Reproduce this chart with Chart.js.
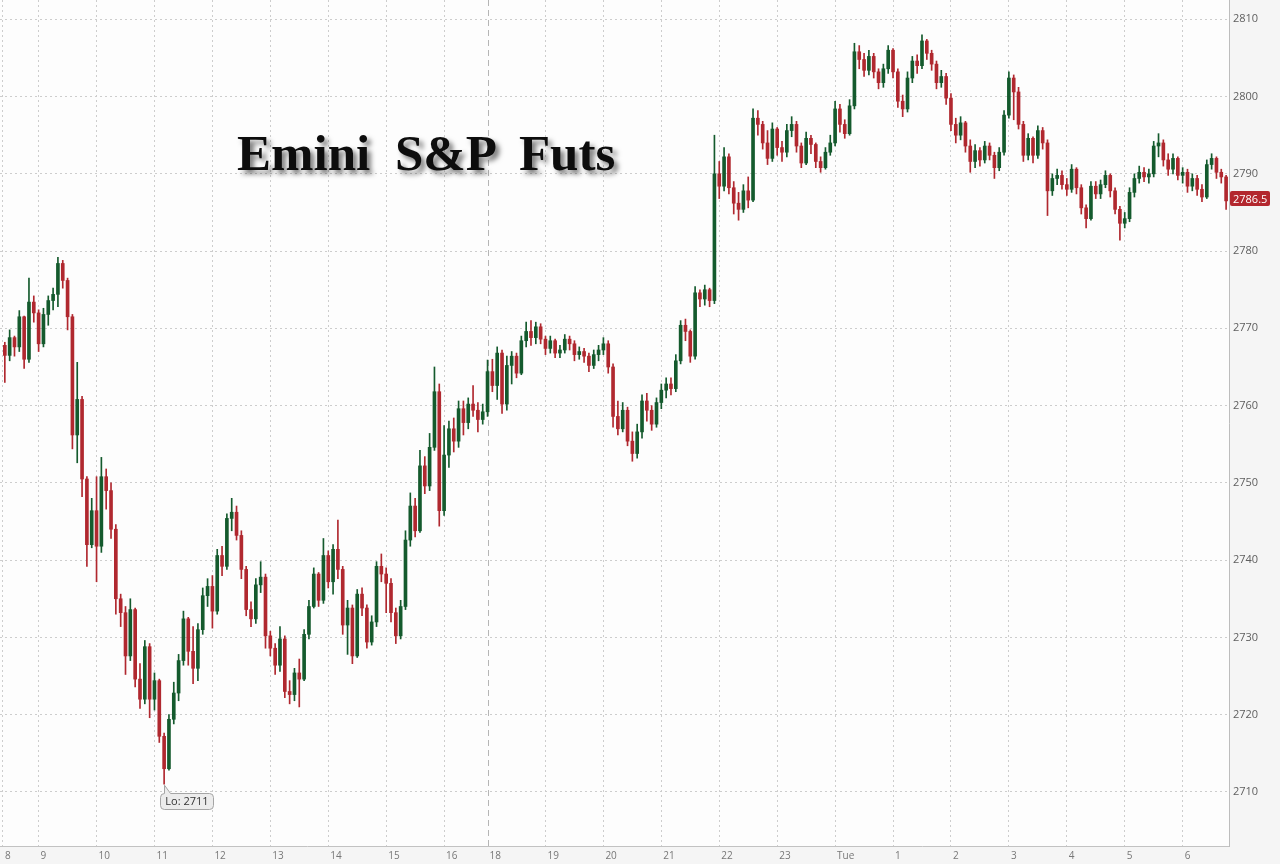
<!DOCTYPE html>
<html>
<head>
<meta charset="utf-8">
<title>Emini S&amp;P Futs</title>
<script src="https://cdn.jsdelivr.net/npm/chart.js@4.4.0/dist/chart.umd.min.js"></script>
<style>
  html, body { margin: 0; padding: 0; background: #f5f5f5; }
  #wrap { position: relative; width: 1280px; height: 864px; overflow: hidden; }
  #title {
    position: absolute; left: 237px; top: 128px;
    font: bold 51px/51px "Liberation Serif", "Times New Roman", serif;
    word-spacing: 12px; color: #0d0d0d; white-space: nowrap;
    text-shadow: 4px 4px 5px rgba(0, 0, 0, 0.5);
  }
</style>
</head>
<body>
<div id="wrap">
  <canvas id="futsChart" width="1280" height="864"></canvas>
  <div id="title">Emini S&amp;P Futs</div>
</div>
<script>
// 5-minute bars, trading time (minutes after 8:00, halts removed)
const firstOpen = 2767.8;
const closes = [
  2766.5, 2768.8, 2767.6, 2771.5, 2766.0, 2773.4, 2772.0, 2768.0, 2771.8, 2773.6,
  2774.4, 2778.4, 2776.2, 2771.5, 2756.2, 2760.8, 2750.5, 2742.0, 2746.4, 2741.8,
  2750.8, 2749.0, 2744.0, 2735.0, 2733.2, 2727.6, 2733.6, 2724.6, 2722.0, 2728.8,
  2722.0, 2724.4, 2717.2, 2713.0, 2719.4, 2722.8, 2727.0, 2732.4, 2728.2, 2726.0,
  2731.0, 2735.4, 2736.6, 2733.4, 2740.6, 2739.2, 2745.4, 2746.2, 2743.2, 2738.8,
  2733.6, 2732.4, 2736.8, 2737.8, 2730.2, 2728.6, 2726.4, 2729.8, 2723.0, 2722.6,
  2725.4, 2724.6, 2730.4, 2734.0, 2738.2, 2734.8, 2740.6, 2737.2, 2741.4, 2738.8,
  2731.6, 2733.8, 2727.6, 2735.6, 2733.8, 2729.4, 2732.0, 2739.2, 2738.2, 2737.0,
  2733.2, 2730.2, 2734.0, 2742.6, 2747.0, 2743.8, 2752.2, 2749.6, 2754.6, 2761.8,
  2746.4, 2753.6, 2757.0, 2755.4, 2759.6, 2757.8, 2760.2, 2759.4, 2758.2, 2759.2,
  2764.4, 2762.6, 2766.8, 2760.2, 2765.2, 2766.4, 2764.2, 2768.4, 2769.6, 2768.8,
  2770.2, 2768.6, 2767.4, 2768.4, 2766.8, 2767.2, 2768.6, 2768.0, 2766.6, 2767.0,
  2766.4, 2765.2, 2766.6, 2767.2, 2768.0, 2765.0, 2758.6, 2757.0, 2759.4, 2755.4,
  2753.8, 2756.6, 2760.6, 2759.4, 2757.6, 2760.4, 2762.0, 2762.8, 2762.2, 2765.8,
  2770.4, 2769.6, 2766.4, 2774.6, 2773.8, 2775.0, 2773.6, 2790.0, 2788.4, 2792.2,
  2788.2, 2786.2, 2785.4, 2787.8, 2786.6, 2797.2, 2796.4, 2794.0, 2792.0, 2795.8,
  2793.4, 2792.8, 2795.6, 2796.4, 2793.6, 2791.4, 2794.6, 2793.8, 2791.6, 2790.8,
  2792.8, 2794.0, 2798.4, 2796.4, 2795.2, 2798.8, 2805.8, 2804.8, 2803.4, 2805.2,
  2803.2, 2801.8, 2803.6, 2806.0, 2803.2, 2799.4, 2798.4, 2802.4, 2804.6, 2804.0,
  2807.2, 2805.6, 2804.2, 2801.8, 2802.6, 2799.8, 2796.4, 2795.0, 2796.6, 2793.6,
  2791.6, 2793.0, 2791.8, 2793.6, 2792.4, 2790.8, 2792.8, 2797.6, 2802.4, 2800.6,
  2796.4, 2792.4, 2794.6, 2792.4, 2795.6, 2794.0, 2787.8, 2789.4, 2789.8, 2788.6,
  2788.0, 2790.6, 2788.2, 2785.6, 2784.2, 2788.4, 2787.4, 2788.6, 2789.8, 2787.8,
  2785.4, 2783.6, 2784.2, 2787.6, 2789.4, 2790.2, 2789.6, 2790.0, 2793.6, 2794.0,
  2791.8, 2790.6, 2792.0, 2789.8, 2790.2, 2788.4, 2789.4, 2788.0, 2787.0, 2791.2,
  2792.0, 2790.2, 2789.6, 2786.5
];
const highs = [
  2768.2, 2769.8, 2769.0, 2772.3, 2771.6, 2776.5, 2774.2, 2772.4, 2772.6, 2774.2,
  2775.2, 2779.2, 2778.8, 2776.5, 2771.8, 2765.6, 2761.2, 2750.8, 2748.0, 2750.8,
  2753.3, 2751.8, 2750.0, 2744.6, 2735.6, 2734.0, 2735.0, 2733.8, 2726.6, 2729.6,
  2729.2, 2725.4, 2724.6, 2717.6, 2720.0, 2724.2, 2727.8, 2733.4, 2732.6, 2731.4,
  2731.8, 2736.4, 2737.6, 2738.0, 2741.4, 2741.8, 2746.0, 2748.0, 2747.0, 2743.8,
  2739.2, 2734.6, 2737.6, 2739.8, 2738.2, 2730.8, 2729.2, 2731.4, 2730.2, 2724.4,
  2726.0, 2727.2, 2731.0, 2734.8, 2739.0, 2738.4, 2742.8, 2741.2, 2742.0, 2745.2,
  2739.2, 2734.8, 2734.2, 2736.2, 2736.4, 2734.2, 2732.8, 2739.8, 2740.8, 2739.0,
  2737.6, 2733.8, 2734.8, 2743.8, 2748.7, 2748.0, 2754.2, 2753.4, 2756.4, 2765.0,
  2762.8, 2757.4, 2758.0, 2758.4, 2760.6, 2760.6, 2761.0, 2762.6, 2760.4, 2760.2,
  2765.9, 2766.0, 2767.6, 2767.2, 2766.4, 2767.0, 2766.8, 2769.0, 2770.8, 2771.0,
  2770.8, 2770.6, 2769.0, 2769.0, 2768.6, 2767.8, 2769.2, 2769.0, 2768.4, 2767.6,
  2767.4, 2766.8, 2767.2, 2767.8, 2768.8, 2768.4, 2765.4, 2760.6, 2760.4, 2759.8,
  2756.6, 2757.6, 2761.4, 2761.6, 2760.0, 2761.0, 2762.8, 2763.6, 2763.6, 2766.6,
  2771.0, 2771.2, 2769.8, 2775.4, 2775.0, 2775.6, 2775.2, 2795.0, 2791.6, 2793.4,
  2792.6, 2789.0, 2787.6, 2788.6, 2789.6, 2798.4, 2798.2, 2796.8, 2795.6, 2796.6,
  2796.0, 2794.2, 2796.4, 2797.4, 2796.8, 2794.0, 2795.4, 2795.0, 2794.0, 2792.2,
  2793.4, 2795.0, 2799.4, 2799.0, 2797.0, 2799.6, 2806.9, 2806.6, 2805.6, 2806.0,
  2805.6, 2803.6, 2804.2, 2806.6, 2806.2, 2803.6, 2800.2, 2803.2, 2805.2, 2805.4,
  2808.0, 2807.4, 2806.0, 2804.6, 2803.4, 2803.0, 2800.4, 2797.2, 2797.4, 2796.8,
  2794.4, 2793.8, 2793.4, 2794.2, 2794.0, 2792.8, 2793.4, 2798.2, 2803.2, 2802.8,
  2801.2, 2796.8, 2795.2, 2794.8, 2796.2, 2796.0, 2794.4, 2790.0, 2790.6, 2790.4,
  2789.4, 2791.2, 2790.8, 2788.6, 2786.0, 2789.0, 2789.0, 2789.2, 2790.4, 2790.0,
  2788.2, 2785.8, 2785.0, 2788.2, 2790.0, 2791.0, 2790.8, 2790.6, 2794.2, 2795.2,
  2794.4, 2792.6, 2792.6, 2792.2, 2790.8, 2790.6, 2790.0, 2789.8, 2788.6, 2791.8,
  2792.6, 2792.2, 2790.6, 2789.8
];
const lows = [
  2763.0, 2765.8, 2766.4, 2767.0, 2764.8, 2765.6, 2770.8, 2767.0, 2767.6, 2770.4,
  2772.4, 2772.8, 2775.2, 2769.8, 2754.4, 2752.6, 2748.2, 2739.2, 2741.6, 2737.2,
  2741.0, 2746.6, 2742.8, 2733.0, 2731.4, 2725.2, 2727.0, 2723.6, 2720.8, 2721.4,
  2719.6, 2720.6, 2716.4, 2711.0, 2712.8, 2718.8, 2721.8, 2726.4, 2726.4, 2724.0,
  2724.4, 2730.4, 2734.0, 2731.2, 2733.0, 2738.0, 2738.8, 2743.8, 2742.6, 2737.6,
  2732.8, 2731.4, 2731.8, 2735.8, 2728.6, 2727.6, 2725.2, 2725.6, 2722.2, 2721.4,
  2721.8, 2721.0, 2724.4, 2729.8, 2733.8, 2734.0, 2734.4, 2736.4, 2735.6, 2737.6,
  2730.4, 2727.8, 2726.6, 2727.4, 2732.8, 2728.6, 2729.0, 2731.4, 2737.2, 2733.2,
  2732.0, 2729.2, 2729.8, 2733.6, 2741.8, 2743.0, 2743.6, 2748.6, 2749.0, 2754.2,
  2744.4, 2745.8, 2752.0, 2754.0, 2754.6, 2756.2, 2757.0, 2758.6, 2756.6, 2757.6,
  2758.6, 2761.8, 2760.8, 2759.0, 2759.4, 2762.8, 2763.6, 2764.0, 2767.6, 2767.8,
  2768.0, 2768.0, 2766.6, 2766.8, 2766.2, 2766.2, 2766.8, 2767.2, 2765.8, 2766.0,
  2765.6, 2764.4, 2764.8, 2765.8, 2766.6, 2764.2, 2757.2, 2756.2, 2756.6, 2754.8,
  2752.8, 2753.2, 2755.8, 2758.0, 2756.8, 2757.2, 2759.6, 2761.0, 2761.4, 2761.8,
  2765.4, 2768.4, 2765.6, 2766.0, 2772.8, 2773.0, 2772.8, 2773.2, 2786.8, 2787.8,
  2787.4, 2784.8, 2784.0, 2785.0, 2785.6, 2786.4, 2795.0, 2793.2, 2791.2, 2791.6,
  2792.4, 2791.6, 2792.2, 2794.8, 2792.8, 2790.8, 2791.2, 2792.6, 2790.8, 2790.2,
  2790.6, 2792.4, 2793.6, 2795.4, 2794.6, 2795.0, 2798.4, 2803.6, 2802.6, 2802.8,
  2802.4, 2801.0, 2801.2, 2803.0, 2802.4, 2798.6, 2797.4, 2798.0, 2801.8, 2803.0,
  2803.6, 2804.8, 2803.4, 2801.0, 2801.2, 2799.0, 2795.6, 2794.0, 2794.4, 2792.8,
  2790.2, 2790.8, 2791.0, 2791.4, 2791.8, 2789.4, 2790.4, 2792.4, 2797.2, 2797.0,
  2795.8, 2791.6, 2791.8, 2791.4, 2792.0, 2793.2, 2784.6, 2787.2, 2788.6, 2788.0,
  2787.2, 2787.6, 2787.4, 2784.8, 2783.0, 2784.0, 2786.8, 2786.8, 2788.2, 2787.0,
  2784.8, 2781.4, 2783.0, 2783.8, 2787.0, 2788.8, 2789.0, 2788.8, 2789.6, 2792.2,
  2791.0, 2789.8, 2790.0, 2789.2, 2788.8, 2787.6, 2787.8, 2787.2, 2786.4, 2786.8,
  2790.6, 2789.4, 2788.8, 2785.4
];

const slotStart = 25;   // first bar, minutes after 8:00
const slotStep = 5;
const sessionBreak = 525; // 17:00 close / 18:00 reopen

const hourTicks = [23, 60, 120, 180, 240, 300, 360, 420, 480, 525, 585, 645, 705,
  765, 825, 885, 945, 1005, 1065, 1125, 1185, 1245];
const hourLabels = ['8', '9', '10', '11', '12', '13', '14', '15', '16', '18', '19', '20', '21',
  '22', '23', 'Tue', '1', '2', '3', '4', '5', '6'];
const priceTicks = [2710, 2720, 2730, 2740, 2750, 2760, 2770, 2780, 2790, 2800, 2810];

const times = closes.map((c, i) => slotStart + i * slotStep);
const opens = closes.map((c, i) => i === 0 ? firstOpen : closes[i - 1]);

const upColor = '#145a2d';
const downColor = '#b0282f';
const barColor = ctx => closes[ctx.dataIndex] >= opens[ctx.dataIndex] ? upColor : downColor;

const gridGray = '#cdcdcd';

// background, session break line, low callout and last price tag
const chartDecor = {
  id: 'chartDecor',
  beforeDraw(chart) {
    const { ctx, chartArea: a } = chart;
    ctx.save();
    ctx.fillStyle = '#f5f5f5';
    ctx.fillRect(0, 0, chart.width, chart.height);
    ctx.fillStyle = '#fdfdfd';
    ctx.fillRect(a.left, a.top, a.right - a.left, a.bottom - a.top);
    ctx.restore();
  },
  beforeDatasetsDraw(chart) {
    const { ctx, chartArea: a, scales } = chart;
    const x = Math.round(scales.x.getPixelForValue(sessionBreak)) + 0.5;
    ctx.save();
    ctx.strokeStyle = '#b5b5b5';
    ctx.lineWidth = 1;
    ctx.setLineDash([6, 4]);
    ctx.beginPath();
    ctx.moveTo(x, a.top);
    ctx.lineTo(x, a.bottom);
    ctx.stroke();
    ctx.restore();
  },
  afterDraw(chart) {
    const { ctx, scales } = chart;

    // Lo callout
    const lowVal = Math.min(...lows);
    const lowIdx = lows.indexOf(lowVal);
    const px = Math.round(scales.x.getPixelForValue(times[lowIdx])) + 0.5;
    const py = scales.y.getPixelForValue(lowVal);
    const bx = px - 4, by = Math.round(py + 9) + 0.5, bw = 53, bh = 16, r = 4;
    ctx.save();
    ctx.beginPath();
    ctx.moveTo(bx + r, by);
    ctx.lineTo(px, by);
    ctx.lineTo(px, py + 1);
    ctx.lineTo(px + 6, by);
    ctx.lineTo(bx + bw - r, by);
    ctx.arcTo(bx + bw, by, bx + bw, by + r, r);
    ctx.lineTo(bx + bw, by + bh - r);
    ctx.arcTo(bx + bw, by + bh, bx + bw - r, by + bh, r);
    ctx.lineTo(bx + r, by + bh);
    ctx.arcTo(bx, by + bh, bx, by + bh - r, r);
    ctx.lineTo(bx, by + r);
    ctx.arcTo(bx, by, bx + r, by, r);
    ctx.closePath();
    ctx.fillStyle = '#ececec';
    ctx.fill();
    ctx.strokeStyle = '#a5a5a5';
    ctx.lineWidth = 1;
    ctx.stroke();
    ctx.fillStyle = '#333';
    ctx.font = '11px "Open Sans", sans-serif';
    ctx.textAlign = 'center';
    ctx.textBaseline = 'middle';
    ctx.fillText('Lo: ' + Math.round(lowVal), bx + bw / 2, by + bh / 2 + 0.5);

    // last price tag
    const last = closes[closes.length - 1];
    const ty = scales.y.getPixelForValue(last) - 2;
    const tx = scales.y.left + 1, tw = 40, th = 15;
    ctx.beginPath();
    ctx.roundRect(tx, Math.round(ty - th / 2), tw, th, 2);
    ctx.fillStyle = '#b3272e';
    ctx.fill();
    ctx.fillStyle = '#ffffff';
    ctx.font = '11px "Open Sans", sans-serif';
    ctx.textAlign = 'left';
    ctx.fillText(last.toFixed(1), tx + 3, Math.round(ty) + 0.5);
    ctx.restore();
  }
};

new Chart(document.getElementById('futsChart'), {
  type: 'bar',
  data: {
    datasets: [
      {
        label: 'Body',
        data: times.map((t, i) => ({ x: t, y: [opens[i], closes[i]] })),
        backgroundColor: barColor,
        borderWidth: 0,
        barThickness: 3,
        minBarLength: 1,
        grouped: false
      },
      {
        label: 'Wick',
        data: times.map((t, i) => ({ x: t, y: [lows[i], highs[i]] })),
        backgroundColor: barColor,
        borderWidth: 0,
        barThickness: 1,
        grouped: false
      }
    ]
  },
  options: {
    responsive: false,
    animation: false,
    layout: { padding: 0 },
    plugins: {
      legend: { display: false },
      tooltip: { enabled: false }
    },
    scales: {
      x: {
        type: 'linear',
        min: 20,
        max: 1293,
        offset: false,
        afterBuildTicks: scale => { scale.ticks = hourTicks.map(v => ({ value: v })); },
        afterFit: scale => {
          scale.height = 18;
          scale.paddingLeft = 0;
          scale.paddingRight = 0;
        },
        ticks: {
          autoSkip: false,
          maxRotation: 0,
          align: 'start',
          labelOffset: 2,
          padding: 4,
          color: '#777',
          font: { family: 'Open Sans', size: 10 },
          callback: (v, i) => hourLabels[i]
        },
        grid: {
          offset: false,
          drawTicks: false,
          color: ctx => (ctx.tick && ctx.tick.value === sessionBreak) ? 'rgba(0,0,0,0)' : gridGray
        },
        border: { color: '#c2c2c2', dash: [2, 3] }
      },
      y: {
        position: 'right',
        min: 2703,
        max: 2812.5,
        afterBuildTicks: scale => { scale.ticks = priceTicks.map(v => ({ value: v })); },
        afterFit: scale => {
          scale.width = 51;
          scale.paddingTop = 0;
          scale.paddingBottom = 0;
        },
        ticks: {
          color: '#5e5e5e',
          padding: 4,
          font: { family: 'Open Sans', size: 11 },
          callback: v => String(v)
        },
        grid: { color: gridGray, drawTicks: false },
        border: { color: '#bdbdbd', dash: [2, 3] }
      }
    }
  },
  plugins: [chartDecor]
});
</script>
</body>
</html>
